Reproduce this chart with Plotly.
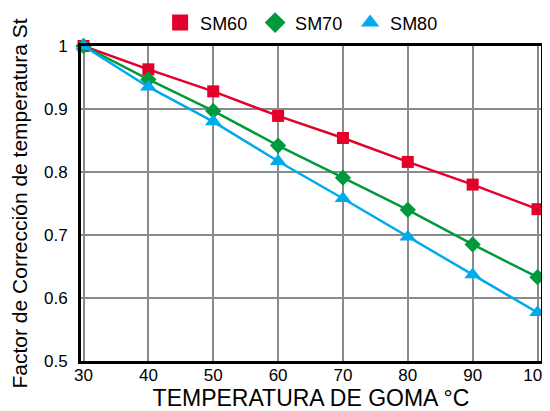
import plotly.graph_objects as go

temps = [30, 40, 50, 60, 70, 80, 90, 100]
sm60 = [1.0, 0.963, 0.928, 0.889, 0.854, 0.816, 0.780, 0.741]
sm70 = [1.0, 0.947, 0.897, 0.842, 0.791, 0.740, 0.685, 0.633]
sm80 = [1.0, 0.935, 0.880, 0.817, 0.758, 0.697, 0.637, 0.577]
names = ["SM60", "SM70", "SM80"]
colors = ["#E3002B", "#009A3D", "#00AAEB"]
symbols = ["square", "diamond", "triangle-up"]
marker_sizes = [12, 12.5, 14.5]
x_ticks = [30, 40, 50, 60, 70, 80, 90, 100]
y_ticks = [0.5, 0.6, 0.7, 0.8, 0.9, 1.0]
y_tick_text = ["0.5", "0.6", "0.7", "0.8", "0.9", "1"]

fig = go.Figure()
for name, ys, c, s, ms in zip(names, [sm60, sm70, sm80], colors, symbols, marker_sizes):
    fig.add_trace(go.Scatter(
        x=temps, y=ys, name=name, mode="lines+markers", showlegend=False,
        line=dict(color=c, width=2.5),
        marker=dict(symbol=s, size=ms, color=c),
        cliponaxis=False,
    ))
# legend entries show markers only, as in the reference
for name, c, s in zip(names, colors, symbols):
    fig.add_trace(go.Scatter(
        x=[None], y=[None], name=name, mode="markers",
        marker=dict(symbol=s, size=20, color=c),
    ))

font = "Liberation Sans, Arial, Helvetica, sans-serif"
# the page body adds an 8px offset, so the figure is sized to fill the rest of the window
fig.update_layout(
    width=542, height=403,
    margin=dict(l=73, r=9, t=38, b=50),
    paper_bgcolor="white", plot_bgcolor="white",
    font=dict(family=font, size=17, color="black"),
    showlegend=True,
    legend=dict(orientation="h", x=0.172, xanchor="left",
                yref="container", y=0.963, yanchor="middle",
                font=dict(size=18), itemwidth=30, tracegroupgap=0,
                entrywidth=50, entrywidthmode="pixels",
                bgcolor="rgba(0,0,0,0)"),
    xaxis=dict(range=[29.61, 100.54], tickvals=x_ticks, showgrid=True, automargin=False,
               gridcolor="#8a8a8a", gridwidth=1.8, showline=True, linecolor="black",
               linewidth=3, mirror=True, ticks="", zeroline=False,
               tickfont=dict(size=17), ticklabelstandoff=-3, ticklabeloverflow="allow",
               title=dict(text="TEMPERATURA DE GOMA °C", font=dict(size=23), standoff=9)),
    yaxis=dict(range=[0.5, 1.0], tickvals=y_ticks, ticktext=y_tick_text, showgrid=True,
               automargin=False,
               gridcolor="#8a8a8a", gridwidth=1.8, showline=True, linecolor="black",
               linewidth=3, mirror=True, ticks="", zeroline=False,
               tickfont=dict(size=17), ticklabelstandoff=7,
               title=dict(text="Factor de Corrección de temperatura St", font=dict(size=21), standoff=11)),
)

fig.write_html("out.html")
